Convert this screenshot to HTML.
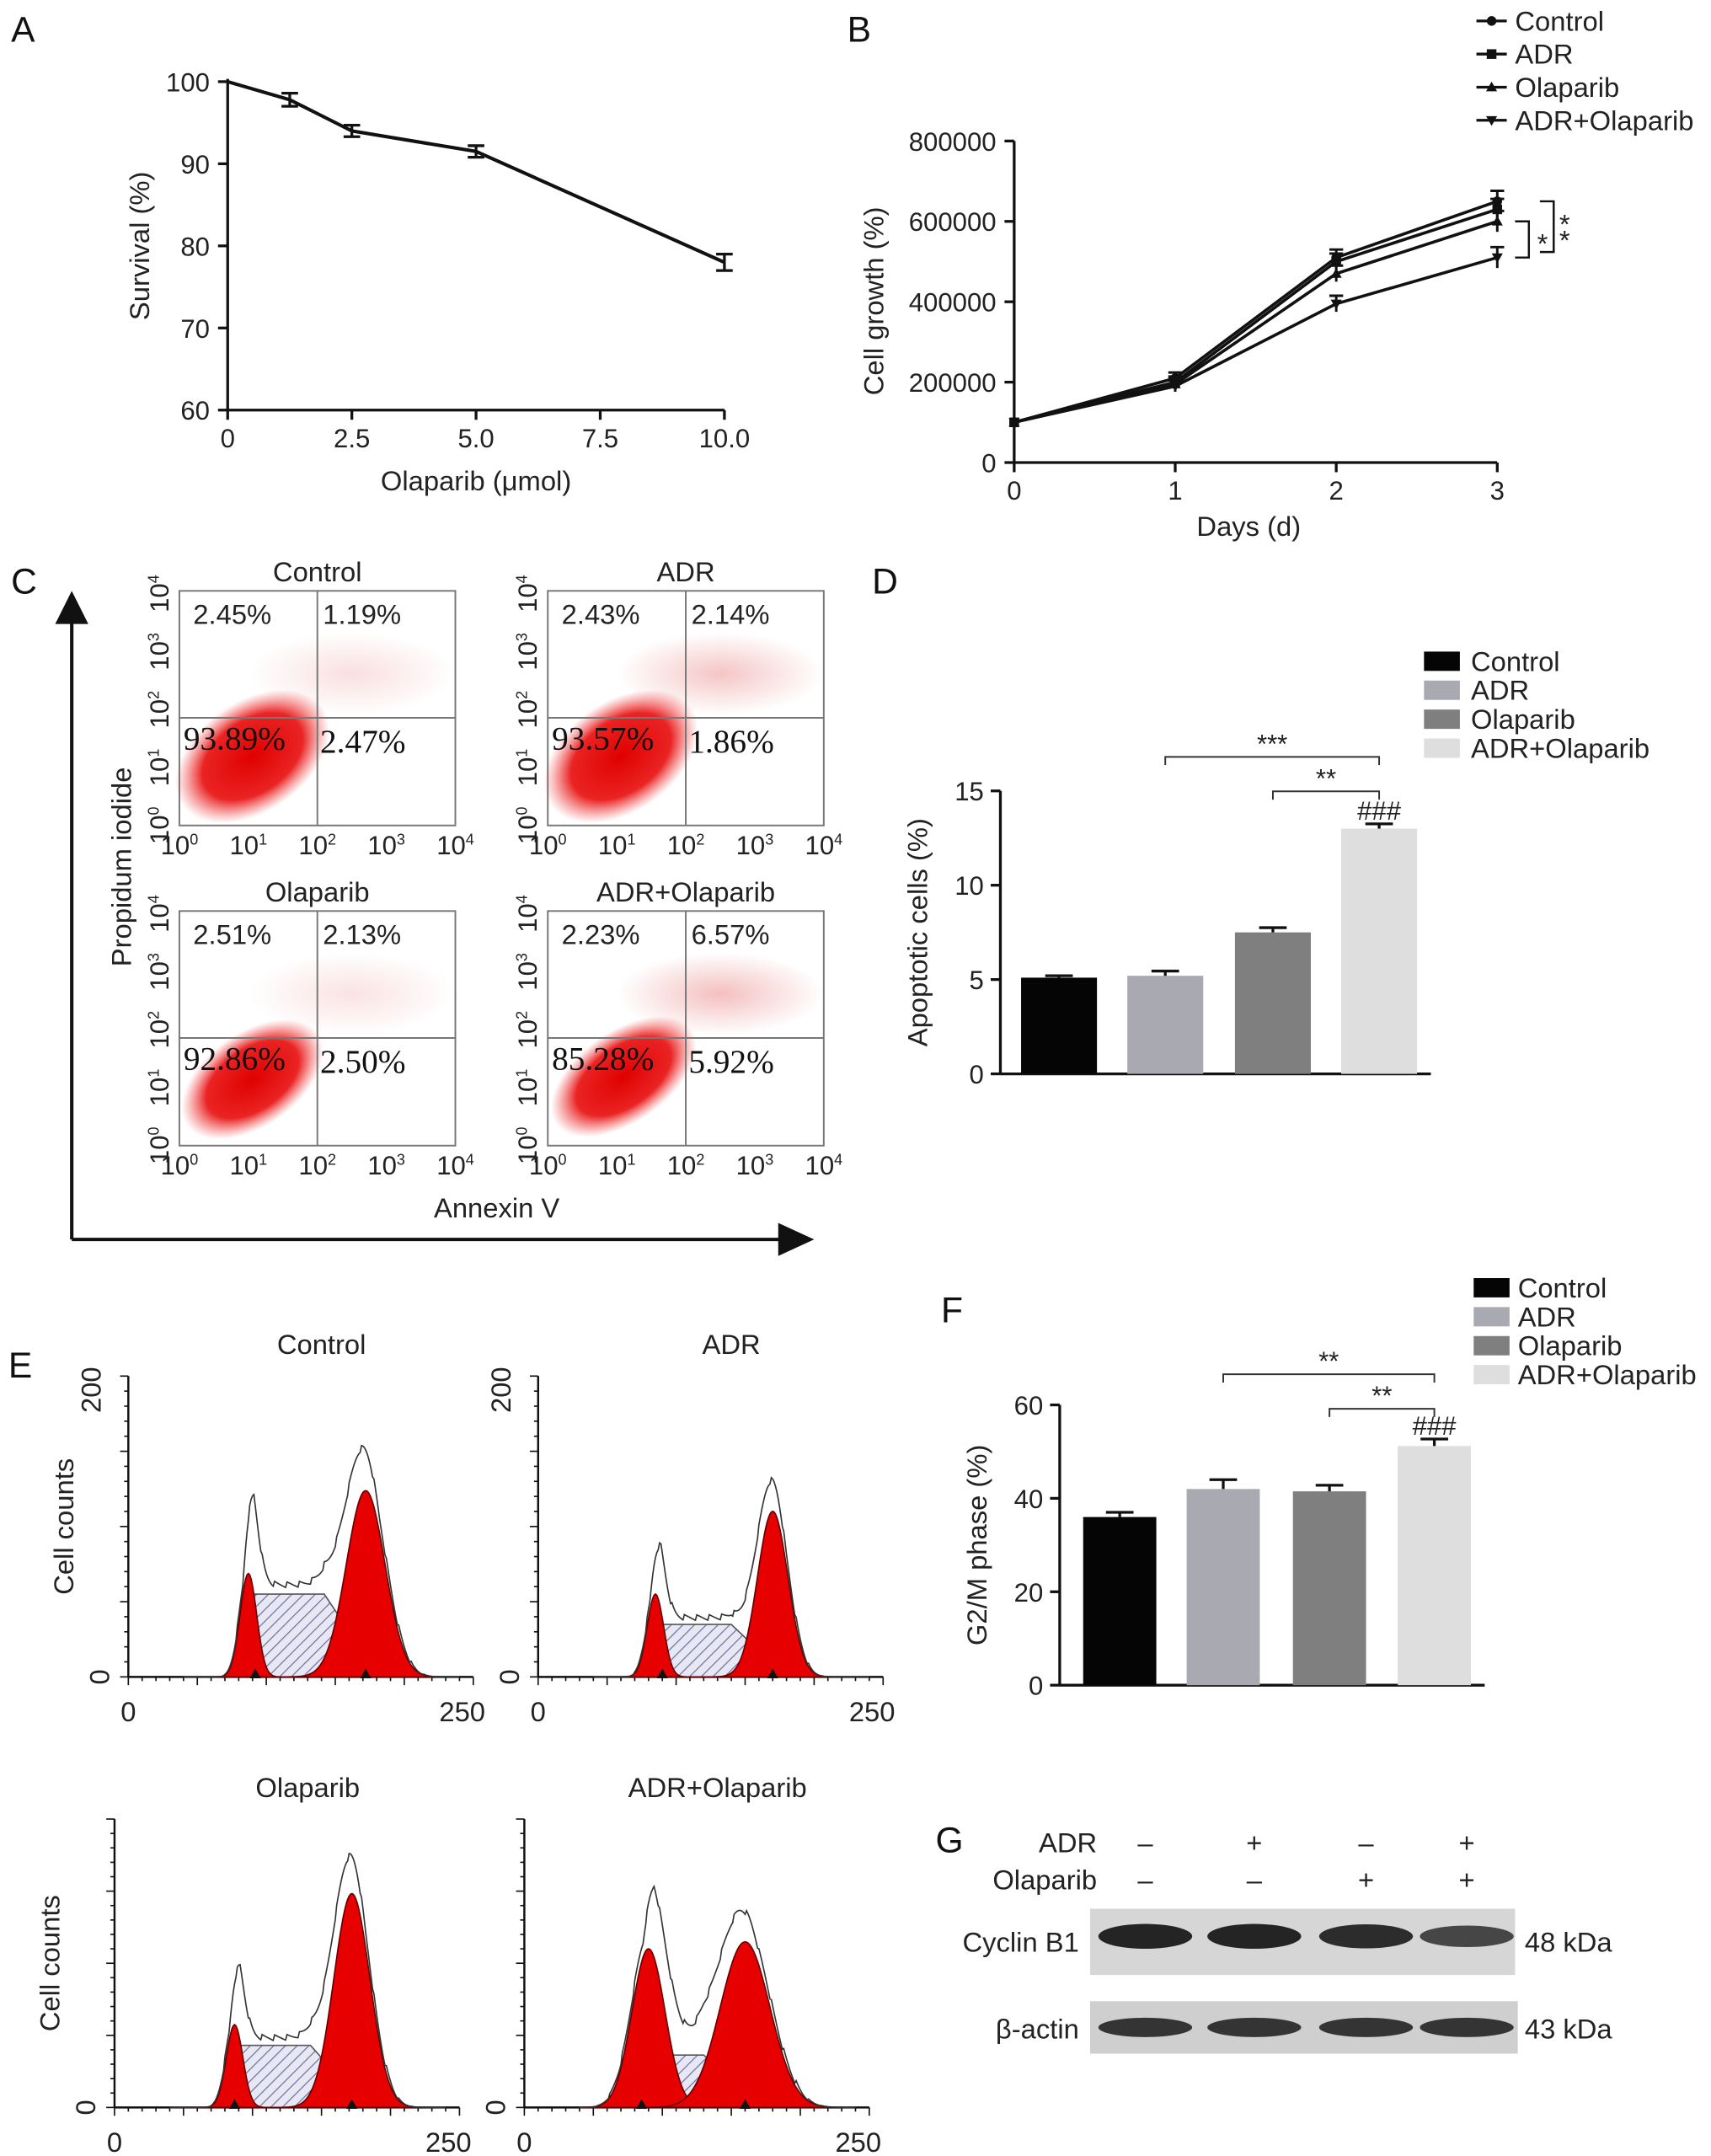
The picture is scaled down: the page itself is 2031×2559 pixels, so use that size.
<!DOCTYPE html>
<html><head><meta charset="utf-8">
<style>
html,body{margin:0;padding:0;background:#fff;}
svg{display:block;font-family:"Liberation Sans",Arial,sans-serif;}
.t{font-size:19px;fill:#222;}
.lbl{font-size:20px;fill:#222;}
.pl{font-size:26px;fill:#111;}
.ser{font-family:"Liberation Serif",serif;font-size:24px;fill:#111;}
</style></head>
<body>
<svg id="fig" width="2031" height="2559" viewBox="0 0 1240 1562" xmlns="http://www.w3.org/2000/svg">
<defs>
<pattern id="hatch" width="6" height="6" patternUnits="userSpaceOnUse" patternTransform="rotate(45)">
<rect width="6" height="6" fill="#e8e8f4"/><line x1="0" y1="0" x2="0" y2="6" stroke="#7070a0" stroke-width="1.5"/></pattern>
<radialGradient id="blob"><stop offset="0" stop-color="#e00000"/><stop offset="0.65" stop-color="#e81010" stop-opacity="0.92"/><stop offset="1" stop-color="#f04040" stop-opacity="0"/></radialGradient>
<radialGradient id="haze"><stop offset="0" stop-color="#e04848" stop-opacity="0.35"/><stop offset="1" stop-color="#e04848" stop-opacity="0"/></radialGradient>
</defs>
<g id="root"></g>
</svg>
<script>
// ---------- Panel A data ----------
const aDoses=[0,1.25,2.5,5,10];
const aSurv=[100,97.8,94,91.5,78];
const aErr=[0,0.8,0.7,0.7,1.0];
const aXTicks=[0,2.5,5.0,7.5,10.0];
const aXTickLabels=["0","2.5","5.0","7.5","10.0"];
const aYTicks=[60,70,80,90,100];
// ---------- Panel B data ----------
const bDays=[0,1,2,3];
const bNames=["Control","ADR","Olaparib","ADR+Olaparib"];
const bControl=[100000,210000,510000,650000];
const bADR=[100000,200000,500000,630000];
const bOla=[100000,195000,470000,600000];
const bCombo=[100000,190000,395000,510000];
const bYTicks=[0,200000,400000,600000,800000];
// ---------- Panel D data ----------
const dGroups=["Control","ADR","Olaparib","ADR+Olaparib"];
const dValues=[5.1,5.2,7.5,13.0];
const dErr=[0.1,0.25,0.25,0.25];
const dYTicks=[0,5,10,15];
// ---------- Panel F data ----------
const fValues=[36,42,41.5,51.2];
const fErr=[1,2,1.3,1.5];
const fYTicks=[0,20,40,60];
// ---------- Panel C quadrant percentages ----------
const cTitles=["Control","ADR","Olaparib","ADR+Olaparib"];
const cUL=["2.45%","2.43%","2.51%","2.23%"];
const cUR=["1.19%","2.14%","2.13%","6.57%"];
const cLL=["93.89%","93.57%","92.86%","85.28%"];
const cLR=["2.47%","1.86%","2.50%","5.92%"];

const NS="http://www.w3.org/2000/svg";
const root=document.getElementById('root');
function el(tag,attrs,parent,text){const e=document.createElementNS(NS,tag);for(const k in attrs)e.setAttribute(k,attrs[k]);if(text!==undefined)e.textContent=text;(parent||root).appendChild(e);return e;}
function line(x1,y1,x2,y2,w,parent,col){return el('line',{x1,y1,x2,y2,stroke:col||'#111','stroke-width':w||2},parent);}
function txt(x,y,s,cls,anchor,parent,extra){const a={x,y,class:cls||'t','text-anchor':anchor||'middle'};if(extra)Object.assign(a,extra);return el('text',a,parent,s);}
function sup(x,y,exp,parent,anchor){const t=el('text',{x,y,class:'t','text-anchor':anchor||'middle','font-size':'16'},parent);t.appendChild(document.createTextNode('10'));const s=document.createElementNS(NS,'tspan');s.setAttribute('dy','-7');s.setAttribute('font-size','11');s.textContent=exp;t.appendChild(s);return t;}

[["A",8,30],["B",614,30],["C",8,430],["D",632,430],["E",6,998],["F",682,958],["G",678,1342]].forEach(p=>{
  const t=txt(p[1],p[2],p[0],'pl','start');
  
  
});

// ===== Panel A =====
(function(){
  const g=el('g',{});
  
  
  const X=v=>165+v*36, Y=v=>297-(v-60)*5.95;
  line(165,Y(100)-2,165,297,2,g); line(165,297,525,297,2,g);
  aYTicks.forEach(v=>{line(158,Y(v),165,Y(v),2,g);txt(152,Y(v)+7,String(v),'t','end',g);});
  aXTicks.forEach((v,i)=>{line(X(v),297,X(v),304,2,g);txt(X(v),324,aXTickLabels[i],'t','middle',g);});
  const pl=el('polyline',{points:aDoses.map((d,i)=>X(d)+','+Y(aSurv[i])).join(' '),fill:'none',stroke:'#111','stroke-width':2.5},g);
  
  
  aDoses.forEach((d,i)=>{if(aErr[i]>0){line(X(d),Y(aSurv[i]+aErr[i]),X(d),Y(aSurv[i]-aErr[i]),2,g);line(X(d)-6,Y(aSurv[i]+aErr[i]),X(d)+6,Y(aSurv[i]+aErr[i]),2,g);line(X(d)-6,Y(aSurv[i]-aErr[i]),X(d)+6,Y(aSurv[i]-aErr[i]),2,g);}});
  const yl=txt(108,178,'Survival (%)','lbl','middle',g,{transform:'rotate(-90 108 178)'});
  
  
  const xl=txt(345,355,'Olaparib (μmol)','lbl','middle',g);
  
  
})();

// ===== Panel B =====
(function(){
  const g=el('g',{});
  
  
  const X=v=>735+v*116.7, Y=v=>335-v/800000*233;
  line(735,Y(800000),735,335,2,g); line(735,335,1085,335,2,g);
  bYTicks.forEach(v=>{line(728,Y(v),735,Y(v),2,g);txt(722,Y(v)+7,String(v),'t','end',g);});
  bDays.forEach(d=>{line(X(d),335,X(d),342,2,g);txt(X(d),362,String(d),'t','middle',g);});
  const series=[bControl,bADR,bOla,bCombo];
  const markers=['c','s','t','v'];
  function mark(x,y,m,p){
    if(m==='c')el('circle',{cx:x,cy:y,r:3.5,fill:'#111'},p);
    else if(m==='s')el('rect',{x:x-3.5,y:y-3.5,width:7,height:7,fill:'#111'},p);
    else if(m==='t')el('path',{d:`M${x-4},${y+3}L${x+4},${y+3}L${x},${y-4}Z`,fill:'#111'},p);
    else el('path',{d:`M${x-4},${y-3}L${x+4},${y-3}L${x},${y+4}Z`,fill:'#111'},p);
  }
  series.forEach((s,si)=>{
    const pl=el('polyline',{points:bDays.map((d,i)=>X(d)+','+Y(s[i])).join(' '),fill:'none',stroke:'#111','stroke-width':2.2},g);
    
    
    bDays.forEach((d,i)=>{mark(X(d),Y(s[i]),markers[si],g); if(i>0){const e=i*6000+8000;line(X(d),Y(s[i]+e),X(d),Y(s[i]-e),1.8,g);line(X(d)-5,Y(s[i]+e),X(d)+5,Y(s[i]+e),1.8,g);}});
  });
  bNames.forEach((n,i)=>{
    const y=15+i*24;
    const lg=el('g',{},g);
    
    
    line(1070,y,1092,y,2,lg); mark(1081,y,markers[i],lg);
    txt(1098,y+7,n,'lbl','start',lg);
  });
  const br=el('g',{},g);
  
  
  el('path',{d:`M1098,${Y(bOla[3])}H1108V${Y(bCombo[3])}H1098`,fill:'none',stroke:'#111','stroke-width':1.5},br);
  txt(1114,Y((bOla[3]+bCombo[3])/2)+10,'*','lbl','start',br);
  el('path',{d:`M1116,${Y(bControl[3])}H1126V${Y(bCombo[3])-4}H1116`,fill:'none',stroke:'#111','stroke-width':1.5},br);
  txt(1130,Y(590000)+6,'*','lbl','start',br); txt(1130,Y(550000)+6,'*','lbl','start',br);
  const yl=txt(640,218,'Cell growth (%)','lbl','middle',g,{transform:'rotate(-90 640 218)'});
  
  
  const xl=txt(905,388,'Days (d)','lbl','middle',g);
  
  
})();

// ===== Panel C =====
(function(){
  const g=el('g',{});
  
  
  line(52,898,52,448,2.5,g); el('path',{d:'M40,452L52,428L64,452Z',fill:'#111'},g);
  line(52,898,568,898,2.5,g); el('path',{d:'M564,886L590,898L564,910Z',fill:'#111'},g);
  txt(95,628,'Propidum iodide','lbl','middle',g,{transform:'rotate(-90 95 628)'});
  txt(360,882,'Annexin V','lbl','middle',g);
  const boxes=[[130,428],[397,428],[130,660],[397,660]];
  const blobs=[[183,548,62,40],[450,548,62,40],[183,782,58,34],[452,780,60,33]];
  const haze=[0.5,0.9,0.45,1.0];
  boxes.forEach((b,i)=>{
    const [x,y]=b, w=200,h=170;
    const p=el('g',{},g);
    
    
    txt(x+w/2,y-7,cTitles[i],'lbl','middle',p);
    el('rect',{x,y,width:w,height:h,fill:'#fff',stroke:'#777','stroke-width':1.2},p);
    el('ellipse',{cx:x+125,cy:y+60,rx:75,ry:30,fill:'url(#haze)',opacity:haze[i]},p);
    const bb=blobs[i];
    el('ellipse',{cx:bb[0],cy:bb[1],rx:bb[2],ry:bb[3],fill:'url(#blob)',transform:`rotate(-35 ${bb[0]} ${bb[1]})`},p);
    line(x+100,y,x+100,y+h,1.2,p,'#777'); line(x,y+92,x+w,y+92,1.2,p,'#777');
    txt(x+10,y+24,cUL[i],'lbl','start',p); txt(x+104,y+24,cUR[i],'lbl','start',p);
    txt(x+3,y+115,cLL[i],'ser','start',p); txt(x+102,y+117,cLR[i],'ser','start',p);
    [0,1,2,3,4].forEach(k=>{sup(x+k*50,y+h+21,String(k),p);sup(x-12,y+h-k*42+4,String(k),p,'middle').setAttribute('transform',`rotate(-90 ${x-12} ${y+h-k*42})`);});
  });
})();

// ===== Bar chart helper (D, F) =====
function barChart(name,ax,y0,pxPerUnit,ticks,vals,errs,xs,bw,top,legendX,legendY,legendTextX,br,ylabel,ylx){
  const g=el('g',{});
  
  
  const cols=['#050505','#a9a9b1','#7f7f7f','#dedede'];
  const Y=v=>y0-v*pxPerUnit;
  line(ax,Y(ticks[ticks.length-1]),ax,y0,2,g); line(ax,y0,xs[3]+bw+10,y0,2,g);
  ticks.forEach(v=>{line(ax-7,Y(v),ax,Y(v),2,g);txt(ax-12,Y(v)+7,String(v),'t','end',g);});
  vals.forEach((v,i)=>{
    const r=el('rect',{x:xs[i],y:Y(v),width:bw,height:y0-Y(v),fill:cols[i]},g);
    
    
    const cx=xs[i]+bw/2;
    line(cx,Y(v),cx,Y(v+errs[i]),2,g,'#111'); line(cx-10,Y(v+errs[i]),cx+10,Y(v+errs[i]),2,g,'#111');
  });
  dGroups.forEach((n,i)=>{
    const lg=el('g',{},g);
    
    
    el('rect',{x:legendX,y:legendY+i*21-8,width:26,height:14,fill:cols[i]},lg);
    txt(legendTextX,legendY+i*21+6,n,'lbl','start',lg);
  });
  const cTop=xs[3]+bw/2;
  const b1=xs[br[0]]+bw/2, b2=xs[br[1]]+bw/2;
  const yA=Y(vals[3])-52, yB=Y(vals[3])-27;
  el('path',{d:`M${b1},${yA+6}V${yA}H${cTop}V${yA+6}`,fill:'none',stroke:'#333','stroke-width':1.2},g);
  txt((b1+cTop)/2,yA-3,br[2],'t','middle',g);
  el('path',{d:`M${b2},${yB+6}V${yB}H${cTop}V${yB+6}`,fill:'none',stroke:'#333','stroke-width':1.2},g);
  txt((b2+cTop)/2,yB-3,'**','t','middle',g);
  txt(cTop,Y(vals[3]+errs[3])-3,'###','t','middle',g,{'font-size':'15'});
  const yl=txt(ylx,(y0+Y(ticks[ticks.length-1]))/2,ylabel,'lbl','middle',g,{transform:`rotate(-90 ${ylx} ${(y0+Y(ticks[ticks.length-1]))/2})`});
  
  
}
barChart('apoptosis-bar-chart',725,778,13.67,dYTicks,dValues,dErr,[740,817,895,972],55,0,1032,480,1066,[1,2,'***'],'Apoptotic cells (%)',672);
barChart('g2m-bar-chart',768,1221,3.385,fYTicks,fValues,fErr,[785,860,937,1013],53,0,1068,934,1100,[1,2,'**'],'G2/M phase (%)',715);

// ===== Panel E histograms =====
(function(){
  const g=el('g',{});
  
  
  const P=[
    {t:'Control',ax:93,top:997,b:1215,g1:[180,75,6],s:[60],g2:[265,135,14],pk:[185,265]},
    {t:'ADR',ax:390,top:997,b:1215,g1:[475,60,6],s:[38],g2:[560,120,11],pk:[480,560]},
    {t:'Olaparib',ax:83,top:1318,b:1527,g1:[170,60,6],s:[45],g2:[255,155,13],pk:[170,255]},
    {t:'ADR+Olaparib',ax:380,top:1318,b:1527,g1:[470,115,12],s:[38],g2:[540,120,18],pk:[465,540]}
  ];
  P.forEach((p,i)=>{
    const h=el('g',{},g);
    
    
    txt(p.ax+140,p.top-16,p.t,'lbl','middle',h);
    const w=250;
    line(p.ax,p.top,p.ax,p.b,1.5,h); line(p.ax,p.b,p.ax+w,p.b,1.5,h);
    for(let k=0;k<=25;k++)line(p.ax+k*10,p.b,p.ax+k*10,p.b+(k%5?3:6),1,h);
    for(let k=0;k<=20;k++)line(p.ax-(k%5?3:6),p.b-k*(p.b-p.top)/20,p.ax,p.b-k*(p.b-p.top)/20,1,h);
    txt(p.ax,p.b+32,'0','lbl','middle',h); txt(p.ax+w-8,p.b+32,'250','lbl','middle',h);
    if(i%2===0){txt(p.ax-40,(p.top+p.b)/2,'Cell counts','lbl','middle',h,{transform:`rotate(-90 ${p.ax-40} ${(p.top+p.b)/2})`});}
    if(i<2)txt(p.ax-20,p.top+10,'200','lbl','middle',h,{transform:`rotate(-90 ${p.ax-20} ${p.top+10})`});
    txt(p.ax-18,p.b+4,'0','lbl','middle',h,{transform:`rotate(-90 ${p.ax-18} ${p.b})`});
    const gauss=(x,c,a,s)=>a*Math.exp(-((x-c)*(x-c))/(2*s*s));
    const g1=x=>gauss(x,p.g1[0],p.g1[1],p.g1[2]);
    const g2=x=>gauss(x,p.g2[0],p.g2[1],p.g2[2]);
    const sPh=x=>{const a=p.g1[0],b=p.g2[0];if(x<a-4||x>b+10)return 0;const e=Math.min(1,(x-a+4)/8)*Math.min(1,(b+10-x)/40);return p.s[0]*Math.max(0,e);};
    const path=f=>{let d=`M${p.ax+40},${p.b}`;for(let x=p.ax+40;x<=p.ax+220;x+=1)d+=`L${x},${p.b-f(x)}`;return d+`L${p.ax+220},${p.b}Z`;};
    el('path',{d:path(sPh),fill:'url(#hatch)',stroke:'#555','stroke-width':1},h);
    el('path',{d:path(g1),fill:'#e60000',stroke:'#600','stroke-width':1},h);
    el('path',{d:path(g2),fill:'#e60000',stroke:'#600','stroke-width':1},h);
    let d='';for(let x=p.ax+40;x<=p.ax+240;x+=1){const s=g1(x)+g2(x)+sPh(x);const y=p.b-s*1.08-((x*7919)%9)*0.5*Math.min(1,s/15);d+=(d?'L':'M')+x+','+y.toFixed(1);}
    el('path',{d,fill:'none',stroke:'#333','stroke-width':1},h);
    p.pk.forEach(x=>el('path',{d:`M${x-4},${p.b+1}L${x+4},${p.b+1}L${x},${p.b-6}Z`,fill:'#111'},h));
  });
})();

// ===== Panel G western blot =====
(function(){
  const g=el('g',{});
  
  
  txt(795,1342,'ADR','lbl','end',g); txt(795,1369,'Olaparib','lbl','end',g);
  const lx=[830,909,990,1063];
  ['–','+','–','+'].forEach((s,i)=>txt(lx[i],1342,s,'lbl','middle',g));
  ['–','–','+','+'].forEach((s,i)=>txt(lx[i],1369,s,'lbl','middle',g));
  el('rect',{x:790,y:1383,width:308,height:48,fill:'#d6d6d6'},g);
  el('rect',{x:790,y:1450,width:310,height:38,fill:'#cfcfcf'},g);
  [1,1,0.9,0.6].forEach((a,i)=>el('ellipse',{cx:lx[i],cy:1403,rx:34,ry:6+a*3,fill:'#1a1a1a',opacity:0.5+a*0.45},g));
  [1,1,1,1].forEach((a,i)=>el('ellipse',{cx:lx[i],cy:1469,rx:34,ry:7,fill:'#222',opacity:0.9},g));
  txt(782,1414,'Cyclin B1','lbl','end',g); txt(1105,1414,'48 kDa','lbl','start',g);
  txt(782,1477,'β-actin','lbl','end',g); txt(1105,1477,'43 kDa','lbl','start',g);
})();
</script>
</body></html>
